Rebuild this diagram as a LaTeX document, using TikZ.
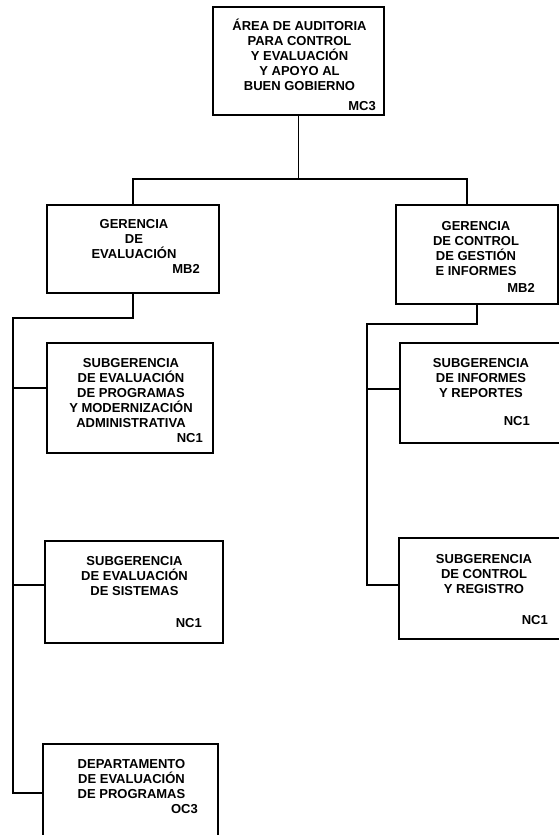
\documentclass[tikz,border=0pt]{standalone}
\usepackage{fontspec}
\setmainfont{Liberation Sans}
\usepackage{tikz}
\usetikzlibrary{calc}

\tikzset{
  unit/.style={draw, line width=1.8pt, inner sep=0pt},
  unittxt/.style={align=center, inner sep=0pt, anchor=base, font=\bfseries\fontsize{13}{15}\selectfont},
  unitcode/.style={inner sep=0pt, anchor=base east, font=\bfseries\fontsize{13}{15}\selectfont},
  link/.style={line width=1.8pt}
}

\begin{document}
\begin{tikzpicture}[x=1pt,y=-1pt]
\useasboundingbox (0,0) rectangle (559,835);

% boxes
\node[unit, minimum width=171pt, minimum height=108pt] (auditoria) at (298.5,61) {};
\node[unit, minimum width=172pt, minimum height=88pt] (gerEval) at (133,249) {};
\node[unit, minimum width=162pt, minimum height=99pt] (gerCtrl) at (477,254.5) {};
\node[unit, minimum width=166pt, minimum height=110pt] (subProg) at (130,398) {};
\node[unit, minimum width=178pt, minimum height=102pt] (subSist) at (134,592) {};
\node[unit, minimum width=175pt, minimum height=98pt] (deptProg) at (130.5,793) {};
\node[unit, minimum width=162pt, minimum height=100pt] (subInf) at (481,393) {};
\node[unit, minimum width=170pt, minimum height=101pt] (subReg) at (484,588.5) {};

% texts (anchored on the last line)
\node[unittxt] (auditoria-t) at (299.5,90) {ÁREA DE AUDITORIA\\PARA CONTROL\\Y EVALUACIÓN\\Y APOYO AL\\BUEN GOBIERNO};
\node[unitcode] (auditoria-c) at (376,110) {MC3};
\node[unittxt] (gerEval-t) at (134,258) {GERENCIA\\DE\\EVALUACIÓN};
\node[unitcode] (gerEval-c) at (200,273) {MB2};
\node[unittxt] (gerCtrl-t) at (476,275) {GERENCIA\\DE CONTROL\\DE GESTIÓN\\E INFORMES};
\node[unitcode] (gerCtrl-c) at (535,292) {MB2};
\node[unittxt] (subProg-t) at (131,427) {SUBGERENCIA\\DE EVALUACIÓN\\DE PROGRAMAS\\Y MODERNIZACIÓN\\ADMINISTRATIVA};
\node[unitcode] (subProg-c) at (203,442) {NC1};
\node[unittxt] (subSist-t) at (134.5,595) {SUBGERENCIA\\DE EVALUACIÓN\\DE SISTEMAS};
\node[unitcode] (subSist-c) at (202,627) {NC1};
\node[unittxt] (deptProg-t) at (131.5,798) {DEPARTAMENTO\\DE EVALUACIÓN\\DE PROGRAMAS};
\node[unitcode] (deptProg-c) at (198,813) {OC3};
\node[unittxt] (subInf-t) at (481,397) {SUBGERENCIA\\DE INFORMES\\Y REPORTES};
\node[unitcode] (subInf-c) at (530,425) {NC1};
\node[unittxt] (subReg-t) at (484,593) {SUBGERENCIA\\DE CONTROL\\Y REGISTRO};
\node[unitcode] (subReg-c) at (548,624) {NC1};

% connectors
\coordinate (busL) at (133,179);
\coordinate (busR) at (467,179);
\coordinate (spineL) at (13,318);
\coordinate (jProg) at (13,388);
\coordinate (jSist) at (13,585);
\coordinate (jDept) at (13,793);
\coordinate (spineR) at (367,324);
\coordinate (jInf) at (367,389);
\coordinate (jReg) at (367,585);

\draw[link] (auditoria.south) -- (auditoria.south |- busL);
\draw[link] (gerEval.north) |- (busR) -- (busR |- gerCtrl.north);
\draw[link] (gerEval.south) |- (spineL) -- (jDept) -- (jDept -| deptProg.west);
\draw[link] (jProg) -- (jProg -| subProg.west);
\draw[link] (jSist) -- (jSist -| subSist.west);
\draw[link] (gerCtrl.south) |- (spineR) -- (jReg) -- (jReg -| subReg.west);
\draw[link] (jInf) -- (jInf -| subInf.west);
\end{tikzpicture}
\end{document}
